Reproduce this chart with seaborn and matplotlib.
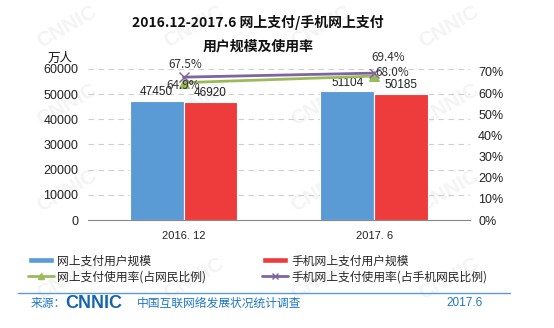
import matplotlib
matplotlib.use("Agg")
import matplotlib.pyplot as plt
import seaborn as sns
import pandas as pd
from matplotlib.patches import Patch
from matplotlib.lines import Line2D

categories = ["2016. 12", "2017. 6"]
pay_users = [47450, 51104]
mobile_pay_users = [46920, 50185]
pay_rate = [64.9, 68.0]
mobile_pay_rate = [67.5, 69.4]
series_names = ["网上支付用户规模", "手机网上支付用户规模",
                "网上支付使用率(占网民比例)", "手机网上支付使用率(占手机网民比例)"]
left_ticks = [0, 10000, 20000, 30000, 40000, 50000, 60000]
right_ticks = [0, 10, 20, 30, 40, 50, 60, 70]

sns.set_theme(style="white")
CJK = ["Noto Sans CJK SC", "DejaVu Sans"]
NUM = ["Liberation Sans", "Noto Sans CJK SC"]
plt.rcParams["font.family"] = CJK

BLUE = "#5B9BD5"
RED = "#EE3B3B"
GREEN = "#9BBB59"
PURPLE = "#8064A2"
CBLUE = "#1F77C8"

df = pd.DataFrame({
    "cat": categories * 2,
    "val": pay_users + mobile_pay_users,
    "series": [series_names[0]] * 2 + [series_names[1]] * 2,
})

fig = plt.figure(figsize=(5.54, 3.28), dpi=100)
fig.patch.set_facecolor("white")

# faint watermark, behind everything
for wx in [0.12, 0.35, 0.58, 0.81]:
    for wy in [0.15, 0.42, 0.68, 0.92]:
        fig.text(wx, wy, "CNNIC", fontsize=15, color="#f4f4f4", rotation=30,
                 ha="center", va="center", family=NUM, fontweight="bold", zorder=-5)

ax = fig.add_axes([0.159, 0.329, 0.689, 0.461])
ax.set_facecolor("none")
sns.barplot(data=df, x="cat", y="val", hue="series", ax=ax,
            palette=[BLUE, RED], width=0.565, saturation=1,
            edgecolor="white", linewidth=0.8, legend=False, zorder=3)
ax.set_xlim(-0.5, 1.5)
ax.set_ylim(0, 60000)
ax.set_yticks(left_ticks)
ax.set_yticklabels([str(t) for t in left_ticks], family=NUM, fontsize=9, color="#222222")
ax.set_xlabel("")
ax.set_ylabel("")
ax.tick_params(axis="x", labelsize=8, colors="#222222", length=0, pad=8)
ax.tick_params(axis="y", length=0, pad=7)
for t in ax.get_xticklabels():
    t.set_family(NUM)
for y in left_ticks[1:]:
    ax.axhline(y, color="#cfcfcf", lw=0.8, ls=(0, (5, 4)), zorder=1)
for s in ["top", "right", "left"]:
    ax.spines[s].set_visible(False)
ax.spines["bottom"].set_color("#888888")
ax.spines["bottom"].set_linewidth(0.8)

for i, c in enumerate(ax.containers):
    ax.bar_label(c, labels=[str(v) for v in (pay_users if i == 0 else mobile_pay_users)],
                 padding=2, fontsize=8.5, family=NUM, color="#222222")

ax2 = ax.twinx()
ax2.set_ylim(0, 71.4)
xs = list(range(len(categories)))
sns.lineplot(x=xs, y=pay_rate, ax=ax2, color=GREEN, lw=2, marker="^",
             markersize=7, markeredgecolor=GREEN, zorder=5)
sns.lineplot(x=xs, y=mobile_pay_rate, ax=ax2, color=PURPLE, lw=2, marker="x",
             markersize=7, markeredgecolor=PURPLE, markeredgewidth=1, zorder=6)
ax2.set_yticks(right_ticks)
ax2.set_yticklabels([f"{t}%" for t in right_ticks], family=NUM, fontsize=9, color="#222222")
ax2.tick_params(axis="y", length=0, pad=6)
ax2.set_ylabel("")
for s in ["top", "right", "left", "bottom"]:
    ax2.spines[s].set_visible(False)

lab_kw = dict(fontsize=8.5, family=CJK, color="#333333", textcoords="offset points",
              zorder=10)
ax2.annotate(f"{mobile_pay_rate[0]:.1f}%", (0, mobile_pay_rate[0]), xytext=(1, 9),
             ha="center", va="center", **lab_kw)
ax2.annotate(f"{pay_rate[0]:.1f}%", (0, pay_rate[0]), xytext=(0, -2),
             ha="center", va="center", **lab_kw)
ax2.annotate(f"{mobile_pay_rate[1]:.1f}%", (1, mobile_pay_rate[1]), xytext=(10, 11),
             ha="center", va="center", **lab_kw)
ax2.annotate(f"{pay_rate[1]:.1f}%", (1, pay_rate[1]), xytext=(1, 2.5),
             ha="left", va="center", **lab_kw)

fig.text(0.466, 0.932, "2016.12-2017.6 网上支付/手机网上支付", ha="center", va="center",
         fontsize=10, fontweight="bold", color="#111111")
fig.text(0.466, 0.857, "用户规模及使用率", ha="center", va="center",
         fontsize=10, fontweight="bold", color="#111111")
fig.text(0.108, 0.823, "万人", ha="center", va="center", fontsize=9, color="#111111")

h_bar1 = Patch(facecolor=BLUE)
h_bar2 = Patch(facecolor=RED)
h_l1 = Line2D([], [], color=GREEN, lw=2, marker="^", markersize=5)
h_l2 = Line2D([], [], color=PURPLE, lw=2, marker="x", markersize=5)
leg_kw = dict(loc="upper left", frameon=False, fontsize=8.5, handlelength=2.2,
              handleheight=0.45, handletextpad=0.3, labelspacing=0.25, borderpad=0,
              borderaxespad=0)
fig.legend([h_bar1, h_l1], [series_names[0], series_names[2]],
           bbox_to_anchor=(0.05, 0.225), **leg_kw)
fig.legend([h_bar2, h_l2], [series_names[1], series_names[3]],
           bbox_to_anchor=(0.473, 0.225), **leg_kw)

fig.add_artist(Line2D([0.032, 0.92], [0.108, 0.108], color="#5B9BD5", lw=1))
fig.text(0.055, 0.075, "来源：", fontsize=8.5, color=CBLUE, va="center")
fig.text(0.118, 0.075, "CNNIC", fontsize=13, fontweight="bold", color="#1565B0",
         va="center", family=NUM)
fig.text(0.247, 0.075, "中国互联网络发展状况统计调查", fontsize=8.5, color=CBLUE, va="center")
fig.text(0.839, 0.075, "2017.6", fontsize=8.5, color=CBLUE, va="center", ha="center",
         family=NUM)

fig.savefig("out.png", dpi=100, facecolor="white")
